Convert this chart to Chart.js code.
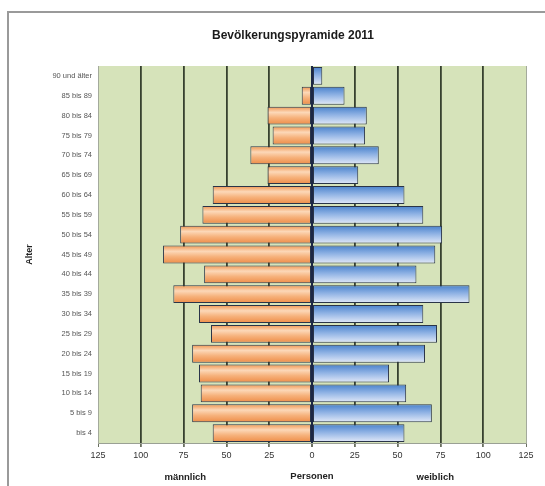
<!DOCTYPE html>
<html>
<head>
<meta charset="utf-8">
<script src="https://cdn.jsdelivr.net/npm/chart.js@4/dist/chart.umd.min.js"></script>
<style>
  html, body { margin: 0; padding: 0; background: #ffffff; }
  #wrap { position: relative; width: 545px; height: 486px; }
  canvas { display: block; }
</style>
</head>
<body>
<div id="wrap"><canvas id="c" width="545" height="486"></canvas></div>
<script>
const chartTitle = "Bevölkerungspyramide 2011";
const ageGroups = ["90 und älter","85 bis 89","80 bis 84","75 bis 79","70 bis 74","65 bis 69","60 bis 64","55 bis 59","50 bis 54","45 bis 49","40 bis 44","35 bis 39","30 bis 34","25 bis 29","20 bis 24","15 bis 19","10 bis 14","5 bis 9","bis 4"];
const maleValues   = [0, 6, 26, 23, 36, 26, 58, 64, 77, 87, 63, 81, 66, 59, 70, 66, 65, 70, 58];
const femaleValues = [6, 19, 32, 31, 39, 27, 54, 65, 76, 72, 61, 92, 65, 73, 66, 45, 55, 70, 54];
const xTickValues = [-125, -100, -75, -50, -25, 0, 25, 50, 75, 100, 125];
const maleLabel = "männlich";
const femaleLabel = "weiblich";
const xTitle = "Personen";
const yTitle = "Alter";

const FONT = "'Liberation Sans', Arial, sans-serif";
const BAR_PCT = 0.9;

function barGradient(ctx, stops) {
  const chart = ctx.chart;
  const ys = chart.scales && chart.scales.y;
  if (!ys || !chart.chartArea || ctx.dataIndex === undefined) return stops[0][1];
  const c = ys.getPixelForValue(ctx.dataIndex);
  const band = (ys.bottom - ys.top) / ageGroups.length;
  const h = band * BAR_PCT / 2;
  const g = chart.ctx.createLinearGradient(0, c - h, 0, c + h);
  stops.forEach(s => g.addColorStop(s[0], s[1]));
  return g;
}
const orangeStops = [[0, '#f09550'], [0.32, '#fcd8b8'], [0.62, '#f6b27c'], [1, '#ee8d48']];
const blueStops = [[0, '#4a82cc'], [0.45, '#8fb2e4'], [1, '#e2e9f8']];

const decor = {
  id: 'decor',
  beforeDraw(chart) {
    const { ctx, chartArea: a } = chart;
    ctx.save();
    ctx.fillStyle = '#d6e3ba';
    ctx.fillRect(a.left, a.top, a.right - a.left, a.bottom - a.top);
    ctx.restore();
  },
  afterDraw(chart) {
    const { ctx } = chart;
    const xs = chart.scales.x;
    ctx.save();
    ctx.strokeStyle = '#9a9a9a';
    ctx.lineWidth = 2;
    ctx.beginPath();
    ctx.moveTo(8, 486);
    ctx.lineTo(8, 12);
    ctx.lineTo(545, 12);
    ctx.stroke();
    ctx.fillStyle = '#1a1a1a';
    ctx.font = 'bold 12px ' + FONT;
    ctx.textAlign = 'center';
    ctx.textBaseline = 'middle';
    ctx.fillText(chartTitle, 293, 36);
    ctx.font = 'bold 9.5px ' + FONT;
    ctx.fillStyle = '#222';
    ctx.fillText(maleLabel, xs.getPixelForValue(-74), 477);
    ctx.fillText(femaleLabel, xs.getPixelForValue(72), 477);
    ctx.restore();
  }
};

new Chart(document.getElementById('c'), {
  type: 'bar',
  data: {
    labels: ageGroups,
    datasets: [
      {
        label: maleLabel,
        data: maleValues.map(v => -v),
        backgroundColor: ctx => barGradient(ctx, orangeStops),
        borderColor: '#2a3448',
        borderWidth: 1,
        borderSkipped: false,
        barPercentage: BAR_PCT,
        categoryPercentage: 1.0
      },
      {
        label: femaleLabel,
        data: femaleValues,
        backgroundColor: ctx => barGradient(ctx, blueStops),
        borderColor: '#2a3448',
        borderWidth: 1,
        borderSkipped: false,
        barPercentage: BAR_PCT,
        categoryPercentage: 1.0
      }
    ]
  },
  options: {
    indexAxis: 'y',
    responsive: false,
    animation: false,
    devicePixelRatio: 1,
    layout: { padding: { left: 0, top: 66, right: 19, bottom: 0 } },
    plugins: {
      legend: { display: false },
      tooltip: { enabled: false },
      title: { display: false }
    },
    scales: {
      x: {
        stacked: true,
        min: -125,
        max: 125,
        afterFit: s => { s.height = 43; },
        afterBuildTicks: s => { s.ticks = xTickValues.map(v => ({ value: v })); },
        ticks: {
          callback: v => String(Math.abs(v)),
          font: { family: FONT, size: 9 },
          color: '#333',
          padding: 3,
          maxRotation: 0
        },
        grid: {
          drawOnChartArea: true,
          drawTicks: true,
          tickLength: 4,
          tickColor: '#6a7060',
          color: c => {
            const v = c.tick ? c.tick.value : 0;
            if (v === 0) return '#1c2745';
            if (Math.abs(v) === 125) return '#a4aa9c';
            return '#37412f';
          },
          lineWidth: c => {
            const v = c.tick ? c.tick.value : 0;
            if (v === 0) return 2;
            if (Math.abs(v) === 125) return 1;
            return 1.8;
          }
        },
        border: { display: true, color: '#9aa094', width: 1 },
        title: {
          display: true,
          text: xTitle,
          font: { family: FONT, size: 9.5, weight: 'bold' },
          color: '#222',
          padding: { top: 0, bottom: 4 }
        }
      },
      y: {
        stacked: true,
        afterFit: s => { s.width = 98; },
        ticks: {
          font: { family: FONT, size: 7.5 },
          color: '#555',
          padding: 6,
          autoSkip: false
        },
        grid: { display: false, drawTicks: false },
        border: { display: true, color: '#a4aa9c', width: 1 },
        title: {
          display: true,
          text: yTitle,
          font: { family: FONT, size: 9, weight: 'bold' },
          color: '#222',
          padding: { top: 24, bottom: 0 }
        }
      }
    }
  },
  plugins: [decor]
});
</script>
</body>
</html>
